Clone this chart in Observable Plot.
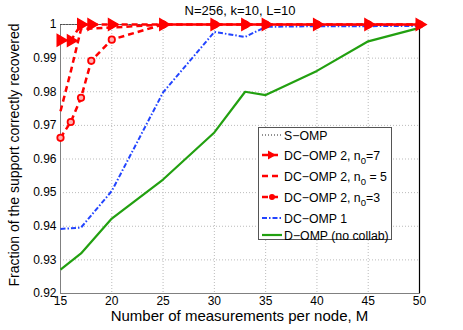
<!DOCTYPE html>
<html><head><meta charset="utf-8">
<script src="https://cdn.jsdelivr.net/npm/d3@7"></script>
<script src="https://cdn.jsdelivr.net/npm/@observablehq/plot@0.6"></script>
<style>body{margin:0;background:#fff;} svg{display:block;}</style>
</head><body>
<div id="chart"></div>
<script>
const title = "N=256, k=10, L=10";
const xLabel = "Number of measurements per node, M";
const yLabel = "Fraction of the support correctly recovered";
const xTicks = [15, 20, 25, 30, 35, 40, 45, 50];
const yTicks = [0.92, 0.93, 0.94, 0.95, 0.96, 0.97, 0.98, 0.99, 1];

const mFull = [15, 16, 17, 18, 20, 25, 30, 33, 35, 40, 45, 50];
const sOmp   = [1, 1, 1, 1, 1, 1, 1, 1, 1, 1, 1, 1];
const dc2n7  = [0.9953, 0.9952, 1, 1, 1, 1, 1, 1, 1, 1, 1, 1];
const dc2n5  = [0.9742, 0.986, 0.9986, 0.9988, 0.9991, 1, 1, 1, 1, 1, 1, 1];
const dc2n3  = [0.9663, 0.9710, 0.9782, 0.9892, 0.9955, 1, 1, 1, 1, 1, 1, 1];
const mShort = [15, 17, 20, 25, 30, 33, 35, 40, 45, 50];
const dc1    = [0.9392, 0.9396, 0.9505, 0.9798, 0.9978, 0.9963, 0.9993, 0.9995, 0.9995, 0.9996];
const dOmp   = [0.9271, 0.9319, 0.9423, 0.9539, 0.9679, 0.9800, 0.9790, 0.9862, 0.9950, 0.9990];

const series = [
  {name: "S\u2212OMP", xs: mFull, ys: sOmp, stroke: "#222", dash: "1,2", width: 1, marker: null},
  {name: "DC\u2212OMP 2, n", sub: "0", tail: "=7", xs: mFull, ys: dc2n7, stroke: "#ff0000", dash: "6,4", width: 2.5, marker: "tri"},
  {name: "DC\u2212OMP 2, n", sub: "0", tail: " = 5", xs: mFull, ys: dc2n5, stroke: "#ff0000", dash: "6,4", width: 2.5, marker: null},
  {name: "DC\u2212OMP 2, n", sub: "0", tail: "=3", xs: mFull, ys: dc2n3, stroke: "#ff0000", dash: "6,4", width: 2.5, marker: "circ"},
  {name: "DC\u2212OMP 1", xs: mShort, ys: dc1, stroke: "#2244ff", dash: "5,2,1.5,2", width: 2, marker: null},
  {name: "D\u2212OMP (no collab)", xs: mShort, ys: dOmp, stroke: "#22a010", dash: null, width: 2.2, marker: null}
];

const rows = s => s.xs.map((x, i) => ({x, y: s.ys[i]}));
const drawOrder = [5, 4, 0, 3, 2, 1];
const marks = [
  Plot.gridX(xTicks, {stroke: "#bbb", strokeOpacity: 1, strokeDasharray: "1,2"}),
  Plot.gridY(yTicks, {stroke: "#bbb", strokeOpacity: 1, strokeDasharray: "1,2"}),
  Plot.frame({stroke: "#808080"}),
  Plot.ruleX([50], {stroke: "#000", strokeWidth: 1.2}),
  Plot.axisX(xTicks, {tickSize: 0, tickPadding: 3, label: null, fontSize: 12}),
  Plot.axisY(yTicks, {tickSize: 0, tickPadding: 4, label: null, fontSize: 12,
    tickFormat: d => d === 1 ? "1" : d.toFixed(2)})
];
for (const i of drawOrder) {
  const s = series[i];
  marks.push(Plot.line(rows(s), {x: "x", y: "y", stroke: s.stroke, strokeWidth: s.width,
    strokeDasharray: s.dash, strokeLinecap: "butt"}));
  if (s.marker === "tri") marks.push(Plot.dot(rows(s), {x: "x", y: "y", symbol: "triangle", rotate: 90, r: 4.2, fill: s.stroke, stroke: s.stroke}));
  if (s.marker === "circ") marks.push(Plot.dot(rows(s), {x: "x", y: "y", symbol: "circle", r: 3.2, fill: "#ffb0b0", stroke: s.stroke, strokeWidth: 1.8}));
}

const chart = Plot.plot({
  width: 463, height: 330,
  marginLeft: 60, marginRight: 44, marginTop: 24, marginBottom: 37,
  x: {domain: [15, 50]},
  y: {domain: [0.92, 1]},
  style: {fontFamily: "'Liberation Sans', Arial, sans-serif", fontSize: "12px", background: "#fff", color: "#000"},
  marks
});
document.getElementById("chart").appendChild(chart);

const svg = d3.select(chart);
const ff = "'Liberation Sans', Arial, sans-serif";
svg.append("text").attr("x", 240).attr("y", 15).attr("text-anchor", "middle")
  .attr("font-family", ff).attr("font-size", 13).text(title);
svg.append("text").attr("x", 239.5).attr("y", 321).attr("text-anchor", "middle")
  .attr("font-family", ff).attr("font-size", 15).text(xLabel);
svg.append("text").attr("transform", "translate(19,155) rotate(-90)").attr("text-anchor", "middle")
  .attr("font-family", ff).attr("font-size", 14).text(yLabel);

// legend
const lg = svg.append("g").attr("text-anchor", "start");
lg.append("rect").attr("x", 258.5).attr("y", 127.5).attr("width", 133).attr("height", 112)
  .attr("fill", "#fff").attr("stroke", "#555").attr("stroke-width", 1);
const ly = [135, 155, 176, 197, 218, 235];
series.forEach((s, i) => {
  const y = ly[i];
  lg.append("line").attr("x1", 262).attr("x2", 282).attr("y1", y).attr("y2", y)
    .attr("stroke", s.stroke).attr("stroke-width", s.width)
    .attr("stroke-dasharray", s.dash || null);
  if (s.marker === "tri") lg.append("path").attr("d", `M${268},${y-4.5}L${276},${y}L${268},${y+4.5}Z`).attr("fill", s.stroke);
  if (s.marker === "circ") lg.append("circle").attr("cx", 272).attr("cy", y).attr("r", 3).attr("fill", s.stroke);
  const t = lg.append("text").attr("x", 284).attr("y", y + 4.5).attr("text-anchor", "start")
    .attr("font-family", ff).attr("font-size", 12.3);
  t.append("tspan").text(s.name);
  if (s.sub) {
    t.append("tspan").attr("dy", 4).attr("font-size", 9.5).text(s.sub);
    t.append("tspan").attr("dy", -4).text(s.tail);
  }
});
</script>
</body></html>
